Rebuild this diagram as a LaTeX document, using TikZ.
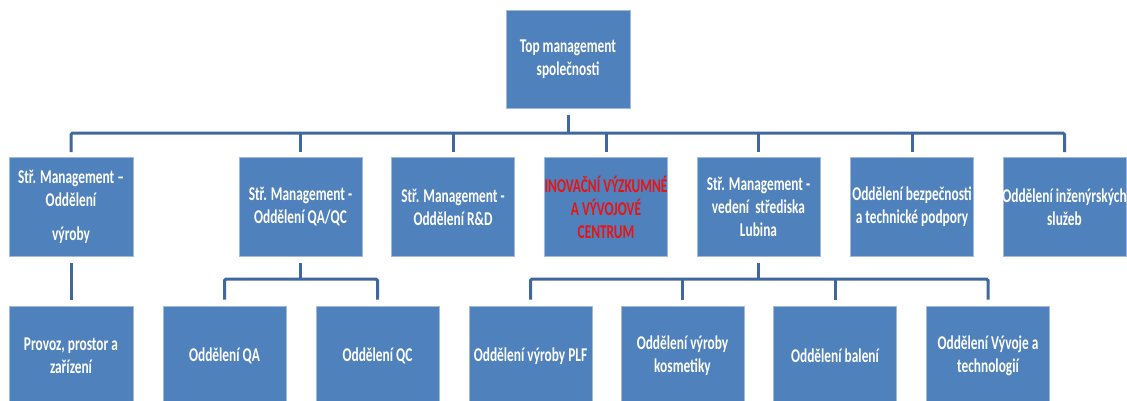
\documentclass[tikz,border=0pt]{standalone}
\usepackage{fontspec}
\newfontfamily\boxfont{Carlito}[FakeStretch=0.685]
\definecolor{boxblue}{RGB}{79,129,189}
\definecolor{boxedge}{RGB}{160,186,220}
\definecolor{linkblue}{RGB}{64,104,158}
\definecolor{alertred}{RGB}{235,18,18}
\begin{document}
\begin{tikzpicture}[x=1pt,y=-1pt,
  box/.style={rectangle, fill=boxblue, draw=boxedge, line width=0.8pt,
    minimum width=123pt, minimum height=99pt, inner sep=0pt},
  boxtext/.style={text=white, font=\boxfont\bfseries\fontsize{19.5}{23}\selectfont,
    align=center, inner sep=0pt},
  link/.style={draw=linkblue, line width=3pt, rounded corners=1.5pt}]
\path[use as bounding box] (0,0) rectangle (1127,400);
\clip (0,0) rectangle (1127,400);

% top
\node[box, minimum width=124pt, minimum height=98pt,
  label={[boxtext]center:{Top management\\společnosti}}] (top) at (568,59) {};

% second row
\node[box, minimum width=124pt,
  label={[boxtext]center:{Stř. Management –\\Oddělení\\[11pt]výroby}}] (b1) at (71,207) {};
\node[box, label={[boxtext]center:{Stř. Management -\\Oddělení QA/QC}}] (b2) at (300.5,207) {};
\node[box, label={[boxtext]center:{Stř. Management -\\Oddělení R\&D}}] (b3) at (453,207) {};
\node[box, label={[boxtext, text=alertred]center:{INOVAČNÍ VÝZKUMNÉ\\A VÝVOJOVÉ\\CENTRUM}}] (b4) at (606,207) {};
\node[box, label={[boxtext]center:{Stř. Management -\\vedení~ střediska\\Lubina}}] (b5) at (758.5,207) {};
\node[box, label={[boxtext]center:{Oddělení bezpečnosti\\a technické podpory}}] (b6) at (912,207) {};
\node[box, label={[boxtext]center:{Oddělení inženýrských\\služeb}}] (b7) at (1064.5,207) {};

% third row
\node[box, minimum width=124pt, minimum height=100pt,
  label={[boxtext]center:{Provoz, prostor a\\zařízení}}] (c1) at (71,356) {};
\node[box, minimum height=100pt, label={[boxtext]center:{Oddělení QA}}] (c2) at (224.5,356) {};
\node[box, minimum height=100pt, label={[boxtext]center:{Oddělení QC}}] (c3) at (377.5,356) {};
\node[box, minimum height=100pt, label={[boxtext]center:{Oddělení výroby PLF}}] (c4) at (530.5,356) {};
\node[box, minimum height=100pt, label={[boxtext]center:{Oddělení výroby\\kosmetiky}}] (c5) at (682.5,356) {};
\node[box, minimum height=100pt, label={[boxtext]center:{Oddělení balení}}] (c6) at (835,356) {};
\node[box, minimum height=100pt, label={[boxtext]center:{Oddělení Vývoje a\\technologií}}] (c7) at (988,356) {};

% connectors level 1
\coordinate (bar) at (568,133);
\draw[link] ([yshift=-7pt]top.south) -- (top.south |- bar);
\draw[link] ([yshift=5pt]b1.north) -- (b1.north |- bar) -- (b7.north |- bar) -- ([yshift=5pt]b7.north);
\foreach \n in {b2,b3,b4,b5,b6}
  \draw[link] (\n.north |- bar) -- ([yshift=5pt]\n.north);

% connectors level 2
\draw[link] ([yshift=-6pt]b1.south) -- ([yshift=6pt]c1.north);

\coordinate (subA) at (300.5,279);
\draw[link] ([yshift=-6pt]b2.south) -- (b2.south |- subA);
\draw[link] ([yshift=6pt]c2.north) -- (c2.north |- subA) -- (c3.north |- subA) -- ([yshift=6pt]c3.north);

\coordinate (subB) at (758.5,279);
\draw[link] ([yshift=-6pt]b5.south) -- (b5.south |- subB);
\draw[link] ([yshift=6pt]c4.north) -- (c4.north |- subB) -- (c7.north |- subB) -- ([yshift=6pt]c7.north);
\foreach \n in {c5,c6}
  \draw[link] (\n.north |- subB) -- ([yshift=6pt]\n.north);
\end{tikzpicture}
\end{document}
